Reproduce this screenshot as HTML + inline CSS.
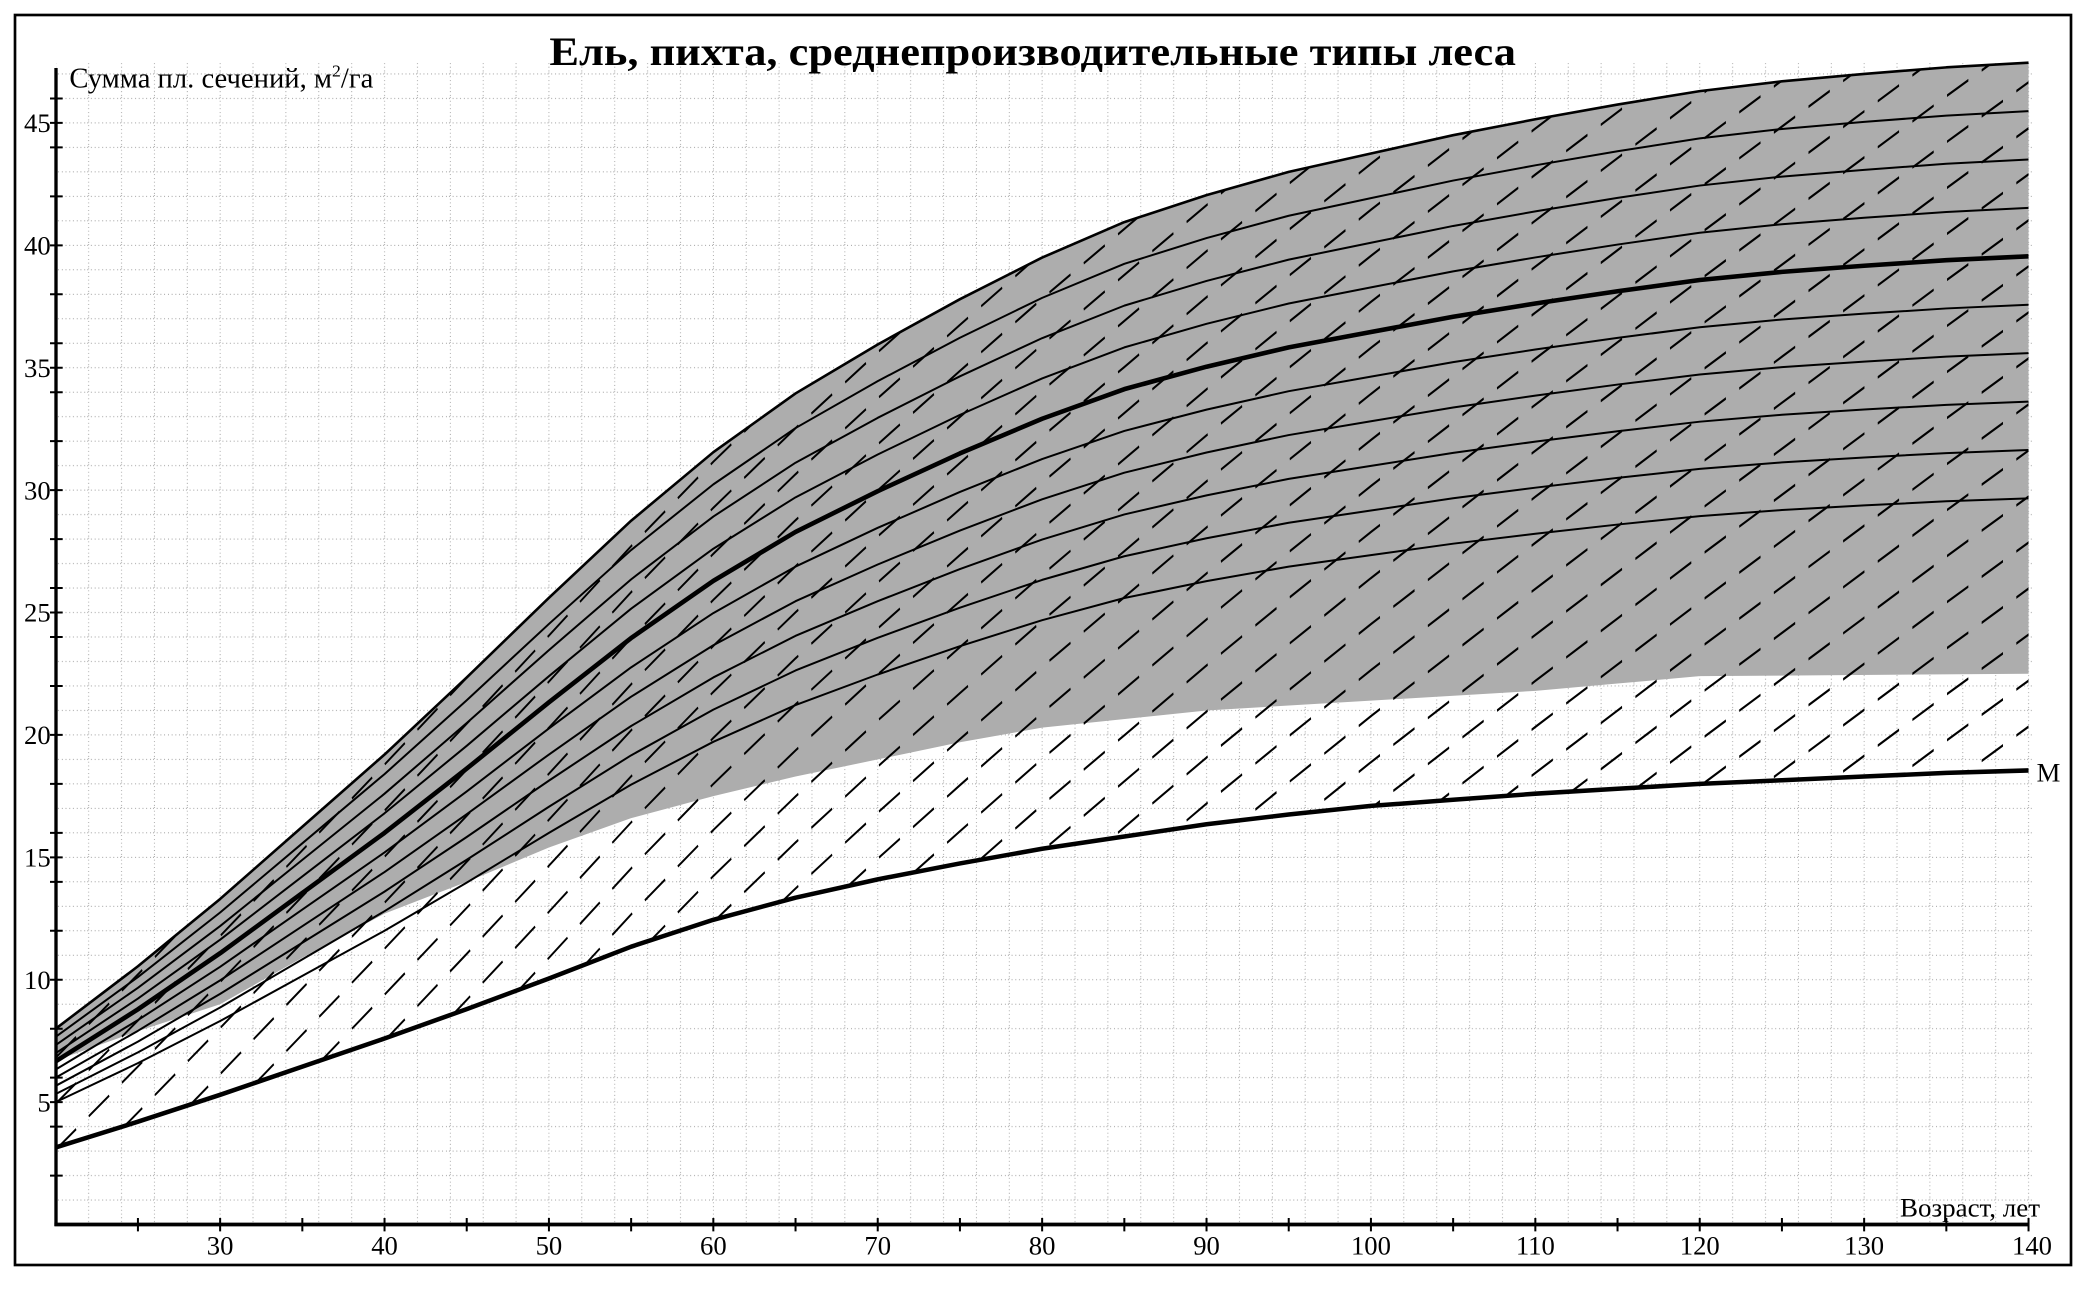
<!DOCTYPE html>
<html><head><meta charset="utf-8"><style>html,body{margin:0;padding:0;background:#fff;width:2088px;height:1290px;overflow:hidden;}svg{display:block}</style></head>
<body>
<svg width="2088" height="1290" viewBox="0 0 1566 967.5" xmlns="http://www.w3.org/2000/svg" xmlns:xlink="http://www.w3.org/1999/xlink">
<defs>
 <pattern id="grid" patternUnits="userSpaceOnUse" x="40.8" y="917.4" width="24.66" height="18.36">
  <line x1="1" y1="0" x2="1" y2="18.36" stroke="#777" stroke-width="0.6" stroke-dasharray="0.6 2.2"/>
  <line x1="0" y1="1" x2="24.66" y2="1" stroke="#777" stroke-width="0.6" stroke-dasharray="0.6 2.2"/>
 </pattern>
 <path id="T" vector-effect="non-scaling-stroke" fill="none" d="M41.8,771.52 L103.45,724.7 L165.1,674.21 L226.75,620.05 L288.4,565.89 L350.05,508.05 L411.7,448.38 L473.35,390.55 L535,339.14 L596.65,295.08 L658.3,258.36 L719.95,224.39 L781.6,193.18 L843.25,166.56 L904.9,146.36 L966.55,128.92 L1028.2,115.15 L1089.85,101.38 L1151.5,89.45 L1213.15,78.43 L1274.8,68.33 L1336.45,61 L1398.1,55.48 L1459.75,50.52 L1521.4,47.03"/>
 <path id="Mc" fill="none" d="M41.8,860.57 L103.45,841.29 L165.1,821.09 L226.75,799.98 L288.4,778.86 L350.05,756.83 L411.7,733.88 L473.35,710.01 L535,689.82 L596.65,673.29 L658.3,659.52 L719.95,647.59 L781.6,636.57 L843.25,627.4 L904.9,618.22 L966.55,610.87 L1028.2,604.44 L1089.85,599.85 L1151.5,595.27 L1213.15,591.59 L1274.8,587.92 L1336.45,585.17 L1398.1,582.41 L1459.75,579.66 L1521.4,577.82"/>
 <clipPath id="hc">
  <path d="M41.8,771.52 L103.45,724.7 L165.1,674.21 L226.75,620.05 L288.4,565.89 L350.05,508.05 L411.7,448.38 L473.35,390.55 L535,339.14 L596.65,295.08 L658.3,258.36 L719.95,224.39 L781.6,193.18 L843.25,166.56 L904.9,146.36 L966.55,128.92 L1028.2,115.15 L1089.85,101.38 L1151.5,89.45 L1213.15,78.43 L1274.8,68.33 L1336.45,61 L1398.1,55.48 L1459.75,50.52 L1521.4,47.03 L1521.4,577.82 L1459.75,579.66 L1398.1,582.41 L1336.45,585.17 L1274.8,587.92 L1213.15,591.59 L1151.5,595.27 L1089.85,599.85 L1028.2,604.44 L966.55,610.87 L904.9,618.22 L843.25,627.4 L781.6,636.57 L719.95,647.59 L658.3,659.52 L596.65,673.29 L535,689.82 L473.35,710.01 L411.7,733.88 L350.05,756.83 L288.4,778.86 L226.75,799.98 L165.1,821.09 L103.45,841.29 L41.8,860.57 Z"/>
 </clipPath>
</defs>

<rect x="0" y="0" width="1566" height="967.5" fill="#fff"/>

<!-- dotted grid -->
<rect x="42" y="46" width="1482" height="872" fill="url(#grid)"/>

<!-- gray band -->
<path fill="#adadad" d="M41.8,771.52 L103.45,724.7 L165.1,674.21 L226.75,620.05 L288.4,565.89 L350.05,508.05 L411.7,448.38 L473.35,390.55 L535,339.14 L596.65,295.08 L658.3,258.36 L719.95,224.39 L781.6,193.18 L843.25,166.56 L904.9,146.36 L966.55,128.92 L1028.2,115.15 L1089.85,101.38 L1151.5,89.45 L1213.15,78.43 L1274.8,68.33 L1336.45,61 L1398.1,55.48 L1459.75,50.52 L1521.4,47.03 L1521.4,505.3 L1274.8,507.14 L1213.15,512.64 L1151.5,518.15 L1028.2,525.5 L904.9,532.84 L781.6,545.69 L719.95,556.71 L658.3,569.56 L596.65,582.41 L535,597.1 L473.35,613.62 L411.7,635.66 L350.05,661.36 L288.4,685.23 L226.75,718.28 L165.1,753.16 L103.45,773.36 L41.8,795.39 Z"/>

<!-- dashed hatching -->
<g clip-path="url(#hc)" fill="none" stroke="#000" stroke-width="2" stroke-dasharray="16 10">
 <path transform="matrix(1,-0.7,0,1,0,-38.06)" stroke-dashoffset="0" d="M41.8,860.57 L103.45,841.29 L165.1,821.09"/>
 <path transform="matrix(1,-0.7,0,1,0,-3.54)" stroke-dashoffset="0" d="M41.8,860.57 L103.45,841.29 L165.1,821.09 L226.75,799.98 L288.4,778.86 L350.05,756.83 L411.7,733.88"/>
 <path transform="matrix(1,-0.7,0,1,0,30.99)" stroke-dashoffset="0" d="M41.8,860.57 L103.45,841.29 L165.1,821.09 L226.75,799.98 L288.4,778.86 L350.05,756.83 L411.7,733.88 L473.35,710.01 L535,689.82 L596.65,673.29"/>
 <path transform="matrix(1,-0.7,0,1,0,65.51)" stroke-dashoffset="0" d="M41.8,860.57 L103.45,841.29 L165.1,821.09 L226.75,799.98 L288.4,778.86 L350.05,756.83 L411.7,733.88 L473.35,710.01 L535,689.82 L596.65,673.29 L658.3,659.52 L719.95,647.59"/>
 <path transform="matrix(1,-0.7,0,1,0,100.03)" stroke-dashoffset="64.59" d="M103.45,841.29 L165.1,821.09 L226.75,799.98 L288.4,778.86 L350.05,756.83 L411.7,733.88 L473.35,710.01 L535,689.82 L596.65,673.29 L658.3,659.52 L719.95,647.59 L781.6,636.57"/>
 <path transform="matrix(1,-0.7,0,1,0,134.56)" stroke-dashoffset="129.47" d="M165.1,821.09 L226.75,799.98 L288.4,778.86 L350.05,756.83 L411.7,733.88 L473.35,710.01 L535,689.82 L596.65,673.29 L658.3,659.52 L719.95,647.59 L781.6,636.57 L843.25,627.4 L904.9,618.22"/>
 <path transform="matrix(1,-0.7,0,1,0,169.08)" stroke-dashoffset="194.64" d="M226.75,799.98 L288.4,778.86 L350.05,756.83 L411.7,733.88 L473.35,710.01 L535,689.82 L596.65,673.29 L658.3,659.52 L719.95,647.59 L781.6,636.57 L843.25,627.4 L904.9,618.22 L966.55,610.87"/>
 <path transform="matrix(1,-0.7,0,1,0,203.61)" stroke-dashoffset="259.81" d="M288.4,778.86 L350.05,756.83 L411.7,733.88 L473.35,710.01 L535,689.82 L596.65,673.29 L658.3,659.52 L719.95,647.59 L781.6,636.57 L843.25,627.4 L904.9,618.22 L966.55,610.87 L1028.2,604.44"/>
 <path transform="matrix(1,-0.7,0,1,0,238.13)" stroke-dashoffset="259.81" d="M288.4,778.86 L350.05,756.83 L411.7,733.88 L473.35,710.01 L535,689.82 L596.65,673.29 L658.3,659.52 L719.95,647.59 L781.6,636.57 L843.25,627.4 L904.9,618.22 L966.55,610.87 L1028.2,604.44 L1089.85,599.85"/>
 <path transform="matrix(1,-0.7,0,1,0,272.65)" stroke-dashoffset="325.28" d="M350.05,756.83 L411.7,733.88 L473.35,710.01 L535,689.82 L596.65,673.29 L658.3,659.52 L719.95,647.59 L781.6,636.57 L843.25,627.4 L904.9,618.22 L966.55,610.87 L1028.2,604.44 L1089.85,599.85 L1151.5,595.27"/>
 <path transform="matrix(1,-0.7,0,1,0,307.18)" stroke-dashoffset="391.06" d="M411.7,733.88 L473.35,710.01 L535,689.82 L596.65,673.29 L658.3,659.52 L719.95,647.59 L781.6,636.57 L843.25,627.4 L904.9,618.22 L966.55,610.87 L1028.2,604.44 L1089.85,599.85 L1151.5,595.27 L1213.15,591.59"/>
 <path transform="matrix(1,-0.7,0,1,0,341.70)" stroke-dashoffset="457.17" d="M473.35,710.01 L535,689.82 L596.65,673.29 L658.3,659.52 L719.95,647.59 L781.6,636.57 L843.25,627.4 L904.9,618.22 L966.55,610.87 L1028.2,604.44 L1089.85,599.85 L1151.5,595.27 L1213.15,591.59 L1274.8,587.92"/>
 <path transform="matrix(1,-0.7,0,1,0,376.23)" stroke-dashoffset="522.04" d="M535,689.82 L596.65,673.29 L658.3,659.52 L719.95,647.59 L781.6,636.57 L843.25,627.4 L904.9,618.22 L966.55,610.87 L1028.2,604.44 L1089.85,599.85 L1151.5,595.27 L1213.15,591.59 L1274.8,587.92 L1336.45,585.17"/>
 <path transform="matrix(1,-0.7,0,1,0,410.75)" stroke-dashoffset="522.04" d="M535,689.82 L596.65,673.29 L658.3,659.52 L719.95,647.59 L781.6,636.57 L843.25,627.4 L904.9,618.22 L966.55,610.87 L1028.2,604.44 L1089.85,599.85 L1151.5,595.27 L1213.15,591.59 L1274.8,587.92 L1336.45,585.17"/>
 <path transform="matrix(1,-0.7,0,1,0,445.27)" stroke-dashoffset="585.87" d="M596.65,673.29 L658.3,659.52 L719.95,647.59 L781.6,636.57 L843.25,627.4 L904.9,618.22 L966.55,610.87 L1028.2,604.44 L1089.85,599.85 L1151.5,595.27 L1213.15,591.59 L1274.8,587.92 L1336.45,585.17 L1398.1,582.41"/>
 <path transform="matrix(1,-0.7,0,1,0,479.80)" stroke-dashoffset="649.04" d="M658.3,659.52 L719.95,647.59 L781.6,636.57 L843.25,627.4 L904.9,618.22 L966.55,610.87 L1028.2,604.44 L1089.85,599.85 L1151.5,595.27 L1213.15,591.59 L1274.8,587.92 L1336.45,585.17 L1398.1,582.41 L1459.75,579.66"/>
 <path transform="matrix(1,-0.7,0,1,0,514.32)" stroke-dashoffset="711.83" d="M719.95,647.59 L781.6,636.57 L843.25,627.4 L904.9,618.22 L966.55,610.87 L1028.2,604.44 L1089.85,599.85 L1151.5,595.27 L1213.15,591.59 L1274.8,587.92 L1336.45,585.17 L1398.1,582.41 L1459.75,579.66 L1521.4,577.82"/>
 <path transform="matrix(1,-0.7,0,1,0,548.85)" stroke-dashoffset="774.46" d="M781.6,636.57 L843.25,627.4 L904.9,618.22 L966.55,610.87 L1028.2,604.44 L1089.85,599.85 L1151.5,595.27 L1213.15,591.59 L1274.8,587.92 L1336.45,585.17 L1398.1,582.41 L1459.75,579.66 L1521.4,577.82"/>
 <path transform="matrix(1,-0.7,0,1,0,583.37)" stroke-dashoffset="774.46" d="M781.6,636.57 L843.25,627.4 L904.9,618.22 L966.55,610.87 L1028.2,604.44 L1089.85,599.85 L1151.5,595.27 L1213.15,591.59 L1274.8,587.92 L1336.45,585.17 L1398.1,582.41 L1459.75,579.66 L1521.4,577.82"/>
 <path transform="matrix(1,-0.7,0,1,0,617.89)" stroke-dashoffset="836.79" d="M843.25,627.4 L904.9,618.22 L966.55,610.87 L1028.2,604.44 L1089.85,599.85 L1151.5,595.27 L1213.15,591.59 L1274.8,587.92 L1336.45,585.17 L1398.1,582.41 L1459.75,579.66 L1521.4,577.82"/>
 <path transform="matrix(1,-0.7,0,1,0,652.42)" stroke-dashoffset="899.12" d="M904.9,618.22 L966.55,610.87 L1028.2,604.44 L1089.85,599.85 L1151.5,595.27 L1213.15,591.59 L1274.8,587.92 L1336.45,585.17 L1398.1,582.41 L1459.75,579.66 L1521.4,577.82"/>
 <path transform="matrix(1,-0.7,0,1,0,686.94)" stroke-dashoffset="961.21" d="M966.55,610.87 L1028.2,604.44 L1089.85,599.85 L1151.5,595.27 L1213.15,591.59 L1274.8,587.92 L1336.45,585.17 L1398.1,582.41 L1459.75,579.66 L1521.4,577.82"/>
 <path transform="matrix(1,-0.7,0,1,0,721.47)" stroke-dashoffset="1023.19" d="M1028.2,604.44 L1089.85,599.85 L1151.5,595.27 L1213.15,591.59 L1274.8,587.92 L1336.45,585.17 L1398.1,582.41 L1459.75,579.66 L1521.4,577.82"/>
 <path transform="matrix(1,-0.7,0,1,0,755.99)" stroke-dashoffset="1023.19" d="M1028.2,604.44 L1089.85,599.85 L1151.5,595.27 L1213.15,591.59 L1274.8,587.92 L1336.45,585.17 L1398.1,582.41 L1459.75,579.66 L1521.4,577.82"/>
 <path transform="matrix(1,-0.7,0,1,0,790.51)" stroke-dashoffset="1085.01" d="M1089.85,599.85 L1151.5,595.27 L1213.15,591.59 L1274.8,587.92 L1336.45,585.17 L1398.1,582.41 L1459.75,579.66 L1521.4,577.82"/>
 <path transform="matrix(1,-0.7,0,1,0,825.04)" stroke-dashoffset="1146.83" d="M1151.5,595.27 L1213.15,591.59 L1274.8,587.92 L1336.45,585.17 L1398.1,582.41 L1459.75,579.66 L1521.4,577.82"/>
 <path transform="matrix(1,-0.7,0,1,0,859.56)" stroke-dashoffset="1208.59" d="M1213.15,591.59 L1274.8,587.92 L1336.45,585.17 L1398.1,582.41 L1459.75,579.66 L1521.4,577.82"/>
 <path transform="matrix(1,-0.7,0,1,0,894.09)" stroke-dashoffset="1270.35" d="M1274.8,587.92 L1336.45,585.17 L1398.1,582.41 L1459.75,579.66 L1521.4,577.82"/>
 <path transform="matrix(1,-0.7,0,1,0,928.61)" stroke-dashoffset="1270.35" d="M1274.8,587.92 L1336.45,585.17 L1398.1,582.41 L1459.75,579.66 L1521.4,577.82"/>
 <path transform="matrix(1,-0.7,0,1,0,963.13)" stroke-dashoffset="1332.06" d="M1336.45,585.17 L1398.1,582.41 L1459.75,579.66 L1521.4,577.82"/>
 <path transform="matrix(1,-0.7,0,1,0,997.66)" stroke-dashoffset="1393.77" d="M1398.1,582.41 L1459.75,579.66 L1521.4,577.82"/>
 <path transform="matrix(1,-0.7,0,1,0,1032.18)" stroke-dashoffset="1455.48" d="M1459.75,579.66 L1521.4,577.82"/>
</g>

<!-- family of curves -->
<g fill="none" stroke="#000" stroke-linejoin="round">
 <use xlink:href="#T" stroke-width="2.6"/>
 <use xlink:href="#T" stroke-width="2" transform="matrix(1,0,0,0.958333,0,38.2667)"/>
 <use xlink:href="#T" stroke-width="2" transform="matrix(1,0,0,0.916667,0,76.5333)"/>
 <use xlink:href="#T" stroke-width="2" transform="matrix(1,0,0,0.875,0,114.8)"/>
 <use xlink:href="#T" stroke-width="4.6" transform="matrix(1,0,0,0.833333,0,153.0667)"/>
 <use xlink:href="#T" stroke-width="2" transform="matrix(1,0,0,0.791667,0,191.3333)"/>
 <use xlink:href="#T" stroke-width="2" transform="matrix(1,0,0,0.75,0,229.6)"/>
 <use xlink:href="#T" stroke-width="2" transform="matrix(1,0,0,0.708333,0,267.8667)"/>
 <use xlink:href="#T" stroke-width="2" transform="matrix(1,0,0,0.666667,0,306.1333)"/>
 <use xlink:href="#T" stroke-width="2" transform="matrix(1,0,0,0.625,0,344.4)"/>
 <use xlink:href="#Mc" stroke-width="3.4"/>
</g>

<!-- axes -->
<g stroke="#000" fill="none">
 <line x1="42" y1="51" x2="42" y2="919.5" stroke-width="2.5"/>
 <line x1="40.8" y1="918.4" x2="1522" y2="918.4" stroke-width="2.8"/>
 <path stroke-width="1.5" d="M103.45,913.5V923.5 M165.1,913.5V923.5 M226.75,913.5V923.5 M288.4,913.5V923.5 M350.05,913.5V923.5 M411.7,913.5V923.5 M473.35,913.5V923.5 M535,913.5V923.5 M596.65,913.5V923.5 M658.3,913.5V923.5 M719.95,913.5V923.5 M781.6,913.5V923.5 M843.25,913.5V923.5 M904.9,913.5V923.5 M966.55,913.5V923.5 M1028.2,913.5V923.5 M1089.85,913.5V923.5 M1151.5,913.5V923.5 M1213.15,913.5V923.5 M1274.8,913.5V923.5 M1336.45,913.5V923.5 M1398.1,913.5V923.5 M1459.75,913.5V923.5 M1521.4,913.5V923.5"/>
 <path stroke-width="1.5" d="M37.5,881.68H47 M37.5,844.96H47 M37.5,826.6H47 M37.5,808.24H47 M37.5,771.52H47 M37.5,734.8H47 M37.5,698.08H47 M37.5,661.36H47 M37.5,643H47 M37.5,624.64H47 M37.5,587.92H47 M37.5,551.2H47 M37.5,514.48H47 M37.5,477.76H47 M37.5,459.4H47 M37.5,441.04H47 M37.5,404.32H47 M37.5,367.6H47 M37.5,330.88H47 M37.5,294.16H47 M37.5,275.8H47 M37.5,257.44H47 M37.5,220.72H47 M37.5,184H47 M37.5,147.28H47 M37.5,110.56H47 M37.5,92.2H47 M37.5,73.84H47"/>
 <rect x="11.25" y="11.25" width="1542" height="937.5" stroke-width="2"/>
</g>

<!-- text -->
<g font-family="'Liberation Serif','DejaVu Serif',serif" fill="#000">
 <text x="774.5" y="48.7" text-anchor="middle" font-weight="bold" font-size="30" textLength="725" lengthAdjust="spacingAndGlyphs">Ель, пихта, среднепроизводительные типы леса</text>
 <text x="52" y="65.5" font-size="21" textLength="228" lengthAdjust="spacingAndGlyphs">Сумма пл. сечений, м<tspan font-size="13" dy="-8">2</tspan><tspan dy="8">/га</tspan></text>
 <g font-size="20" text-anchor="end">
  <text x="38" y="99.1">45</text>
  <text x="38" y="190.9">40</text>
  <text x="38" y="282.7">35</text>
  <text x="38" y="374.5">30</text>
  <text x="38" y="466.3">25</text>
  <text x="38" y="558.1">20</text>
  <text x="38" y="649.9">15</text>
  <text x="38" y="741.7">10</text>
  <text x="38" y="833.5">5</text>
 </g>
 <g font-size="20" text-anchor="middle">
  <text x="165.1" y="941">30</text>
  <text x="288.4" y="941">40</text>
  <text x="411.7" y="941">50</text>
  <text x="535" y="941">60</text>
  <text x="658.3" y="941">70</text>
  <text x="781.6" y="941">80</text>
  <text x="904.9" y="941">90</text>
  <text x="1028.2" y="941">100</text>
  <text x="1151.5" y="941">110</text>
  <text x="1274.8" y="941">120</text>
  <text x="1398.1" y="941">130</text>
  <text x="1524" y="941">140</text>
 </g>
 <text x="1425" y="912.5" font-size="20" textLength="105" lengthAdjust="spacingAndGlyphs">Возраст, лет</text>
 <text x="1527.5" y="586" font-size="20">M</text>
</g>
</svg>
</body></html>
